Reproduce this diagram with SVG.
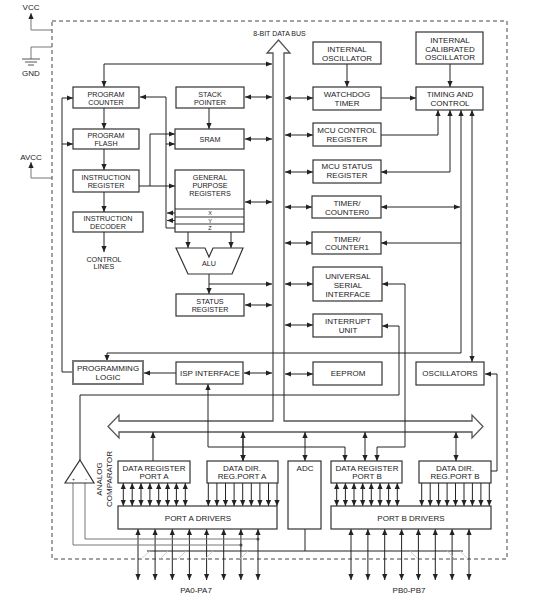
<svg xmlns="http://www.w3.org/2000/svg" width="548" height="600" viewBox="0 0 548 600">
<defs>
<marker id="a" viewBox="0 0 6 6" refX="6" refY="3" markerWidth="6" markerHeight="6" markerUnits="userSpaceOnUse" orient="auto-start-reverse"><path d="M0,0.4 L6,3 L0,5.6z" fill="#222"/></marker>
</defs>
<style>
text{font-family:"Liberation Sans",Arial,sans-serif;fill:#222;text-anchor:middle}
.s{font-size:7.2px}
.m{font-size:8px}
.t{font-size:5.5px}
.b{fill:#fff;stroke:#333;stroke-width:1.2}
.c{fill:none;stroke:#222;stroke-width:1}
.e{marker-end:url(#a)}
.d{marker-start:url(#a);marker-end:url(#a)}
.g{fill:none;stroke:#777;stroke-width:1}
.h{fill:none;stroke:#c8c8c8;stroke-width:0.8}
</style>
<rect width="548" height="600" fill="#fff"/>
<g id="border"><rect x="52" y="21" width="455" height="538" fill="none" stroke="#444" stroke-width="1" stroke-dasharray="4,3"/></g>
<g id="power">
<path class="g e" d="M52,30 H31 V13"/>
<text class="m" x="31" y="9.5" font-size="7.5px">VCC</text>
<path class="g" d="M52,47 H31 V59"/>
<path d="M22,59 H40 M25,62 H37 M28,65 H34" stroke="#555" stroke-width="1"/>
<text class="m" x="31" y="76">GND</text>
<path class="g e" d="M52,178 H31 V162"/>
<text class="m" x="31" y="160">AVCC</text>
</g>
<g id="databus">
<polygon points="278.5,40 290,53 284,53 284,421 472,421 472,415 483,426.5 472,438 472,432 119,432 119,438 108,426.5 119,415 119,421 273,421 273,53 267,53" fill="#fff" stroke="#555" stroke-width="1.3"/>
<text x="279.5" y="35.5" font-size="7px">8-BIT DATA BUS</text>
</g>
<g id="connectors">
<path class="c d" d="M104,87 V64 H272"/>
<path class="c e" d="M104,108 V129"/>
<path class="c e" d="M104,149 V170"/>
<path class="c e" d="M104,192 V212"/>
<path class="c e" d="M104,232 V252"/>
<path class="c e" d="M209,108 V129"/>
<path class="c d" d="M245,97 H272"/>
<path class="c d" d="M245,139 H272"/>
<path class="c d" d="M245,202 H272"/>
<path class="c e" d="M209,274 V294"/>
<path class="c e" d="M209,284 H272"/>
<path class="c d" d="M245,305 H272"/>
<path class="c d" d="M244,373 H272"/>
<path class="c e" d="M176,373 H144"/>
<path class="c e" d="M73,372 H62 V98 H73"/>
<path class="c e" d="M62,144 H73"/>
<path class="c e" d="M175,228 H166 V97 H140"/>
<path class="c e" d="M166,144 H175"/>
<path class="c e" d="M175,213 H167"/>
<path class="c e" d="M175,220.5 H167"/>
<path class="c e" d="M139,186 H175"/>
<path class="c e" d="M150,186 V134 H175"/>
<path class="c e" d="M188,232 V248"/>
<path class="c e" d="M231,232 V248"/>
<path class="c d" d="M285,98 H313"/>
<path class="c d" d="M285,135 H313"/>
<path class="c d" d="M285,172 H313"/>
<path class="c d" d="M285,207 H312"/>
<path class="c d" d="M285,243 H312"/>
<path class="c d" d="M285,284 H313"/>
<path class="c d" d="M285,325 H313"/>
<path class="c d" d="M285,374 H313"/>
<path class="c e" d="M347,64 V87"/>
<path class="c e" d="M450,64 V87"/>
<path class="c e" d="M381,98 H416"/>
<path class="c e" d="M381,135 H438 V110"/>
<path class="c d" d="M450,110 V172 H381"/>
<path class="c d" d="M461,110 V353 H107 V361"/>
<path class="c d" d="M381,207 H460"/>
<path class="c e" d="M461,243 H381"/>
<path class="c d" d="M472,110 V362"/>
<path class="c d" d="M382,284 H405 V447 H377 V461"/>
<path class="c" d="M382,326 H399 V395 H80 V460" marker-start="url(#a)"/>
<path class="c d" d="M208,384 V447 H345 V461"/>
<path class="c e" d="M491,471 H497 V374 H485"/>
<path class="c d" d="M153,432 V461 M243,432 V461"/>
<path class="c d" d="M243,432 V461"/>
<path class="c d" d="M305,432 V461"/>
<path class="c d" d="M365,432 V461"/>
<path class="c d" d="M456,432 V461"/>
<path class="c d" d="M123.3,483 V506"/><path class="c d" d="M132.2,483 V506"/><path class="c d" d="M141,483 V506"/><path class="c d" d="M149.9,483 V506"/><path class="c d" d="M158.7,483 V506"/><path class="c d" d="M167.6,483 V506"/><path class="c d" d="M176.4,483 V506"/><path class="c d" d="M185.3,483 V506"/>
<path class="c e" d="M208.3,483 V506"/><path class="c e" d="M216.9,483 V506"/><path class="c e" d="M225.5,483 V506"/><path class="c e" d="M234.1,483 V506"/><path class="c e" d="M242.7,483 V506"/><path class="c e" d="M251.3,483 V506"/><path class="c e" d="M259.9,483 V506"/><path class="c e" d="M268.5,483 V506"/><path class="c e" d="M277,483 V506"/>
<path class="c d" d="M336.7,483 V506"/><path class="c d" d="M345.4,483 V506"/><path class="c d" d="M354,483 V506"/><path class="c d" d="M362.7,483 V506"/><path class="c d" d="M371.3,483 V506"/><path class="c d" d="M380,483 V506"/><path class="c d" d="M388.6,483 V506"/><path class="c d" d="M397.3,483 V506"/>
<path class="c e" d="M421.7,483 V506"/><path class="c e" d="M430.2,483 V506"/><path class="c e" d="M438.6,483 V506"/><path class="c e" d="M447.1,483 V506"/><path class="c e" d="M455.5,483 V506"/><path class="c e" d="M464,483 V506"/><path class="c e" d="M472.4,483 V506"/><path class="c e" d="M480.9,483 V506"/><path class="c e" d="M489.3,483 V506"/>
<path class="c d" d="M138,529 V580"/><path class="c d" d="M155.1,529 V580"/><path class="c d" d="M172.3,529 V580"/><path class="c d" d="M189.4,529 V580"/><path class="c d" d="M206.6,529 V580"/><path class="c d" d="M223.7,529 V580"/><path class="c d" d="M240.9,529 V580"/><path class="c d" d="M258,529 V580"/>
<path class="c d" d="M351,529 V580"/><path class="c d" d="M367.9,529 V580"/><path class="c d" d="M384.7,529 V580"/><path class="c d" d="M401.6,529 V580"/><path class="c d" d="M418.4,529 V580"/><path class="c d" d="M435.3,529 V580"/><path class="c d" d="M452.1,529 V580"/><path class="c d" d="M469,529 V580"/>
<path class="c" d="M305,529 V551 M147,551 H463"/>
<path class="h" d="M141,559 L150,551 M160,559 L168,551 M178,559 L186,551 M205,559 L213,551 M240,559 L248,551 M410,551 L418,559 M447,551 L455,559 M460,551 L468,559"/>
<path class="g" d="M73,483 V545 H241 M85,483 V539 H258"/>
<circle cx="241" cy="545" r="1.5" fill="#444"/>
<circle cx="258" cy="539" r="1.5" fill="#444"/>
</g>
<g id="program-counter"><rect class="b" x="73" y="87" width="66" height="21"/><text class="s" x="106" y="96.9">PROGRAM</text><text class="s" x="106" y="104.9">COUNTER</text></g>
<g id="stack-pointer"><rect class="b" x="176" y="87" width="68" height="21"/><text class="s" x="210" y="96.9">STACK</text><text class="s" x="210" y="104.9">POINTER</text></g>
<g id="program-flash"><rect class="b" x="73" y="129" width="66" height="20"/><text class="s" x="106" y="137.9">PROGRAM</text><text class="s" x="106" y="145.9">FLASH</text></g>
<g id="sram"><rect class="b" x="175" y="129" width="69" height="20"/><text class="s" x="210" y="141.9">SRAM</text></g>
<g id="instruction-register"><rect class="b" x="73" y="170" width="66" height="22"/><text class="s" x="106" y="179.9">INSTRUCTION</text><text class="s" x="106" y="187.9">REGISTER</text></g>
<g id="gpr"><rect class="b" x="175" y="170" width="69" height="62"/><path d="M175,209 H244 M175,217 H244 M175,224 H244" stroke="#333" stroke-width="1"/><text class="s" x="210" y="180">GENERAL</text><text class="s" x="210" y="188">PURPOSE</text><text class="s" x="210" y="195.6">REGISTERS</text><text class="t" x="210" y="215">X</text><text class="t" x="210" y="222.6">Y</text><text class="t" x="210" y="230">Z</text></g>
<g id="instruction-decoder"><rect class="b" x="73" y="212" width="70" height="20"/><text class="s" x="108" y="221">INSTRUCTION</text><text class="s" x="108" y="229.3">DECODER</text></g>
<g id="control-lines"><text class="s" x="104" y="261.6">CONTROL</text><text class="s" x="104" y="269.3">LINES</text></g>
<g id="alu"><polygon points="176,248 205,248 209,257 213,248 243,248 232,274 188,274" fill="#fff" stroke="#333" stroke-width="1.2"/><text class="s" x="209" y="266">ALU</text></g>
<g id="status-register"><rect class="b" x="176" y="294" width="68" height="22"/><text class="s" x="210" y="303.6">STATUS</text><text class="s" x="210" y="311.6">REGISTER</text></g>
<g id="programming-logic"><rect x="73" y="361" width="70" height="23" fill="#fff" stroke="#777" stroke-width="2"/><text class="m" x="108" y="370.9">PROGRAMMING</text><text class="m" x="108" y="379.6">LOGIC</text></g>
<g id="isp-interface"><rect class="b" x="176" y="362" width="67" height="22"/><text class="m" x="210" y="376.4">ISP INTERFACE</text></g>
<g id="internal-oscillator"><rect class="b" x="313" y="42" width="68" height="22"/><text class="m" x="347" y="51.9">INTERNAL</text><text class="m" x="347" y="60.9">OSCILLATOR</text></g>
<g id="calibrated-oscillator"><rect class="b" x="416" y="32" width="67" height="32"/><text class="m" x="450" y="42.9">INTERNAL</text><text class="m" x="450" y="51.6">CALIBRATED</text><text class="m" x="450" y="60.2">OSCILLATOR</text></g>
<g id="watchdog-timer"><rect class="b" x="313" y="87" width="68" height="23"/><text class="m" x="347" y="96.9">WATCHDOG</text><text class="m" x="347" y="105.9">TIMER</text></g>
<g id="timing-control"><rect class="b" x="416" y="87" width="67" height="23"/><text class="m" x="450" y="96.9">TIMING AND</text><text class="m" x="450" y="105.9">CONTROL</text></g>
<g id="mcu-control"><rect class="b" x="313" y="123" width="68" height="23"/><text class="m" x="347" y="132.9">MCU CONTROL</text><text class="m" x="347" y="141.9">REGISTER</text></g>
<g id="mcu-status"><rect class="b" x="313" y="160" width="68" height="23"/><text class="m" x="347" y="168.9">MCU STATUS</text><text class="m" x="347" y="177.9">REGISTER</text></g>
<g id="timer0"><rect class="b" x="312" y="196" width="69" height="22"/><text class="m" x="347" y="205.9">TIMER/</text><text class="m" x="347" y="214.9">COUNTER0</text></g>
<g id="timer1"><rect class="b" x="312" y="232" width="69" height="22"/><text class="m" x="347" y="241.9">TIMER/</text><text class="m" x="347" y="249.9">COUNTER1</text></g>
<g id="usi"><rect class="b" x="313" y="267" width="69" height="34"/><text class="m" x="348" y="278.9">UNIVERSAL</text><text class="m" x="348" y="287.9">SERIAL</text><text class="m" x="348" y="296.9">INTERFACE</text></g>
<g id="interrupt-unit"><rect class="b" x="313" y="314" width="69" height="23"/><text class="m" x="348" y="323.9">INTERRUPT</text><text class="m" x="348" y="332.9">UNIT</text></g>
<g id="eeprom"><rect class="b" x="313" y="362" width="69" height="23"/><text class="m" x="348" y="376.4">EEPROM</text></g>
<g id="oscillators"><rect class="b" x="416" y="362" width="68" height="23"/><text class="m" x="450" y="376.4">OSCILLATORS</text></g>
<g id="data-register-a"><rect class="b" x="118" y="461" width="72" height="22"/><text class="m" x="154" y="470.6">DATA REGISTER</text><text class="m" x="154" y="478.9">PORT A</text></g>
<g id="data-dir-a"><rect class="b" x="207" y="461" width="71" height="22"/><text class="m" x="242" y="470.6">DATA DIR.</text><text class="m" x="242" y="478.9">REG.PORT A</text></g>
<g id="adc"><rect class="b" x="288" y="461" width="33" height="68"/><text class="m" x="305" y="470.6">ADC</text></g>
<g id="data-register-b"><rect class="b" x="331" y="461" width="71" height="22"/><text class="m" x="367" y="470.6">DATA REGISTER</text><text class="m" x="367" y="478.9">PORT B</text></g>
<g id="data-dir-b"><rect class="b" x="419" y="461" width="72" height="22"/><text class="m" x="455" y="470.6">DATA DIR.</text><text class="m" x="455" y="478.9">REG.PORT B</text></g>
<g id="port-a-drivers"><rect class="b" x="118" y="506" width="159" height="23"/><text class="m" x="198" y="520.6">PORT A DRIVERS</text></g>
<g id="port-b-drivers"><rect class="b" x="331" y="506" width="160" height="23"/><text class="m" x="411" y="520.6">PORT B DRIVERS</text></g>
<g id="analog-comparator"><polygon points="80,460 94,483 65,483" fill="#fff" stroke="#333" stroke-width="1.2"/><text x="73.5" y="481" font-size="5px">+</text><text x="86" y="481" font-size="5px">-</text><text class="m" transform="translate(102.2,479) rotate(-90)">ANALOG</text><text class="m" transform="translate(111.9,479) rotate(-90)">COMPARATOR</text></g>
<g id="pins"><text class="m" x="196" y="592.8">PA0-PA7</text><text class="m" x="409" y="592.8">PB0-PB7</text></g>
</svg>
